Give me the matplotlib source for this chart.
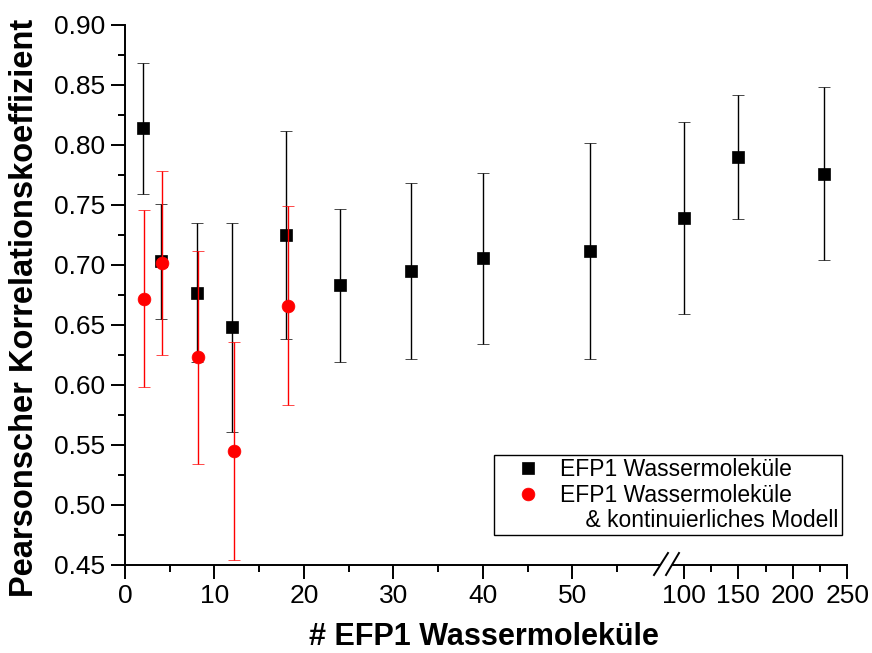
import matplotlib
matplotlib.use("Agg")
import matplotlib.pyplot as plt
from matplotlib.lines import Line2D
import numpy as np

plt.rcParams['font.family'] = ['Liberation Sans', 'DejaVu Sans']

# ---- data ----
x_efp = [2, 4, 8, 12, 18, 24, 32, 40, 52, 100, 150, 229]
y_efp = [0.814, 0.703, 0.677, 0.648, 0.725, 0.683, 0.695, 0.706, 0.712, 0.739, 0.790, 0.776]
e_efp_lo = [0.055, 0.048, 0.058, 0.087, 0.087, 0.064, 0.073, 0.072, 0.090, 0.080, 0.052, 0.072]
e_efp_hi = [0.054, 0.048, 0.058, 0.087, 0.087, 0.064, 0.073, 0.071, 0.090, 0.080, 0.052, 0.072]

x_pcm = [2, 4, 8, 12, 18]
y_pcm = [0.672, 0.702, 0.623, 0.545, 0.666]
e_pcm_lo = [0.074, 0.077, 0.089, 0.091, 0.083]
e_pcm_hi = [0.074, 0.076, 0.089, 0.091, 0.083]

label_efp = "EFP1 Wassermoleküle"
label_pcm = "EFP1 Wassermoleküle"
label_pcm2 = "    & kontinuierliches Modell"
xlabel = "# EFP1 Wassermoleküle"
ylabel = "Pearsonscher Korrelationskoeffizient"

yticks = [0.45, 0.50, 0.55, 0.60, 0.65, 0.70, 0.75, 0.80, 0.85, 0.90]
xticks1 = [0, 10, 20, 30, 40, 50]
xticks2 = [100, 150, 200, 250]

W, H = 872, 653
fig = plt.figure(figsize=(W / 100, H / 100), dpi=100)

def fx(px):
    return px / W

def fy(py):
    return 1 - py / H

ax_top, ax_bot = 25, 565
ax1 = fig.add_axes([fx(125), fy(ax_bot), fx(660) - fx(125), (ax_bot - ax_top) / H])
ax2 = fig.add_axes([fx(673), fy(ax_bot), fx(847.3) - fx(673), (ax_bot - ax_top) / H])

red_off = 0.17
for ax in (ax1, ax2):
    ax.errorbar(x_efp, y_efp, yerr=[e_efp_lo, e_efp_hi], fmt='s', color='black',
                ms=8.2, mew=0.5, ecolor='black', elinewidth=1.0, capsize=4.2,
                capthick=1.0, zorder=3)
    ax.errorbar(np.array(x_pcm) + red_off, y_pcm, yerr=[e_pcm_lo, e_pcm_hi], fmt='o',
                color='#ff0000', ms=9.2, mew=0.5, ecolor='#ff0000', elinewidth=1.0,
                capsize=4.2, capthick=1.0, zorder=4)
    ax.set_ylim(0.45, 0.90)
    for s in ('top', 'right'):
        ax.spines[s].set_visible(False)
    ax.spines['bottom'].set_linewidth(1.4)
    ax.spines['left'].set_linewidth(1.4)
    ax.tick_params(which='major', direction='out', length=10, width=1.4,
                   labelsize=19, pad=4, colors='black')
    ax.tick_params(which='minor', direction='out', length=5, width=1.4)

ax1.set_xlim(0, 59.8)
ax1.set_xticks(xticks1)
ax1.set_xticks([5, 15, 25, 35, 45, 55], minor=True)
ax1.set_yticks(yticks)
ax1.set_yticklabels([f"{v:.2f}" for v in yticks])
ax1.set_yticks(np.arange(0.475, 0.9, 0.05), minor=True)

ax2.set_xlim(89.9, 250)
ax2.set_xticks(xticks2)
ax2.set_xticks([125, 175, 225], minor=True)
ax2.spines['left'].set_visible(False)
ax2.tick_params(axis='y', which='both', left=False, labelleft=False)
ax2.patch.set_alpha(0)

# axis break marks
for (x0, x1) in ((654, 668), (666, 679)):
    fig.add_artist(Line2D([fx(x0), fx(x1)], [fy(575), fy(553)],
                          transform=fig.transFigure, color='black', lw=1.4))

fig.text(fx(483.5), fy(652), xlabel, ha='center', va='bottom',
         fontsize=22, fontweight='bold')
fig.text(fx(25), fy(308), ylabel, ha='center', va='center', rotation=90,
         fontsize=23.5, fontweight='bold')

handles = [
    Line2D([], [], marker='s', color='black', ls='none', ms=8.2, mew=0.5),
    Line2D([], [], marker='o', color='#ff0000', ls='none', ms=9.2, mew=0.5),
    Line2D([], [], ls='none'),
]
leg = fig.legend(handles, [label_efp, label_pcm, label_pcm2], loc='upper left',
                 bbox_to_anchor=(fx(494), fy(455)), borderaxespad=0,
                 fontsize=16.5, frameon=True, fancybox=False, framealpha=1,
                 edgecolor='black', borderpad=0.15, labelspacing=0.1,
                 handlelength=2.65, handletextpad=0.1, numpoints=1)
leg.get_frame().set_linewidth(1.0)

fig.savefig("out.png", dpi=100)
